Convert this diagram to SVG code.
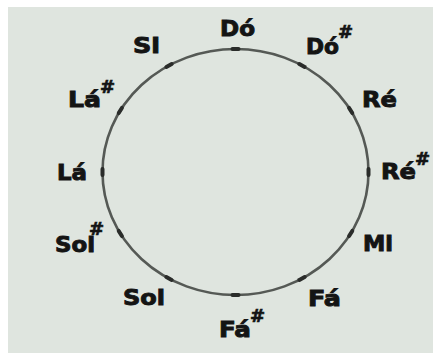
<svg xmlns="http://www.w3.org/2000/svg" width="433" height="353" viewBox="0 0 433 353">
  <style>
    .lbl { font-family: "DejaVu Sans", "Liberation Sans", sans-serif; font-weight: bold; font-size: 21px; fill: #141414; stroke: #141414; stroke-width: 0.9; }
    .sh { font-family: "DejaVu Sans", "Liberation Sans", sans-serif; font-weight: bold; font-size: 18px; fill: #141414; stroke: #141414; stroke-width: 0.7; }
    .tick { stroke: #2a2c2a; stroke-width: 4; stroke-linecap: round; }
    .ring { fill: none; stroke: #555955; stroke-width: 2.6; }
  </style>
  <defs>
    <line id="tk" class="tick" x1="-3" y1="0" x2="3" y2="0"/>
  </defs>
  <rect x="0" y="0" width="433" height="353" fill="#ffffff"/>
  <rect x="8" y="7" width="425" height="346" fill="#dfe5df"/>

  <g id="connectors">
    <ellipse class="ring" cx="235.5" cy="172" rx="133" ry="123"/>
  </g>

  <g id="do">
    <use href="#tk" transform="translate(235.5,49) rotate(0)"/>
    <text class="lbl" x="220" y="36" textLength="35" lengthAdjust="spacingAndGlyphs">Dó</text>
  </g>
  <g id="do-sharp">
    <use href="#tk" transform="translate(302,65.5) rotate(28)"/>
    <text class="lbl" x="306" y="54" textLength="33" lengthAdjust="spacingAndGlyphs">Dó</text>
    <text class="sh" x="338" y="38">#</text>
  </g>
  <g id="re">
    <use href="#tk" transform="translate(350.7,110.5) rotate(58)"/>
    <text class="lbl" x="362" y="107" textLength="35" lengthAdjust="spacingAndGlyphs">Ré</text>
  </g>
  <g id="re-sharp">
    <use href="#tk" transform="translate(368.5,172) rotate(90)"/>
    <text class="lbl" x="381" y="179" textLength="35" lengthAdjust="spacingAndGlyphs">Ré</text>
    <text class="sh" x="415" y="165">#</text>
  </g>
  <g id="mi">
    <use href="#tk" transform="translate(350.7,233.5) rotate(122)"/>
    <text class="lbl" x="363" y="251" textLength="30" lengthAdjust="spacingAndGlyphs">Mi</text>
  </g>
  <g id="fa">
    <use href="#tk" transform="translate(302,278.5) rotate(152)"/>
    <text class="lbl" x="308" y="306" textLength="33" lengthAdjust="spacingAndGlyphs">Fá</text>
  </g>
  <g id="fa-sharp">
    <use href="#tk" transform="translate(235.5,295) rotate(180)"/>
    <text class="lbl" x="219" y="337" textLength="32" lengthAdjust="spacingAndGlyphs">Fá</text>
    <text class="sh" x="250" y="322">#</text>
  </g>
  <g id="sol">
    <use href="#tk" transform="translate(169,278.5) rotate(28)"/>
    <text class="lbl" x="123" y="305" textLength="42" lengthAdjust="spacingAndGlyphs">Sol</text>
  </g>
  <g id="sol-sharp">
    <use href="#tk" transform="translate(120.3,233.5) rotate(58)"/>
    <text class="lbl" x="55" y="252" textLength="40" lengthAdjust="spacingAndGlyphs">Sol</text>
    <text class="sh" x="89" y="235">#</text>
  </g>
  <g id="la">
    <use href="#tk" transform="translate(102.5,172) rotate(90)"/>
    <text class="lbl" x="57" y="180" textLength="30" lengthAdjust="spacingAndGlyphs">Lá</text>
  </g>
  <g id="la-sharp">
    <use href="#tk" transform="translate(120.3,110.5) rotate(122)"/>
    <text class="lbl" x="68" y="107" textLength="33" lengthAdjust="spacingAndGlyphs">Lá</text>
    <text class="sh" x="100" y="93">#</text>
  </g>
  <g id="si">
    <use href="#tk" transform="translate(169,65.5) rotate(152)"/>
    <text class="lbl" x="133" y="53" textLength="27" lengthAdjust="spacingAndGlyphs">Si</text>
  </g>
</svg>
